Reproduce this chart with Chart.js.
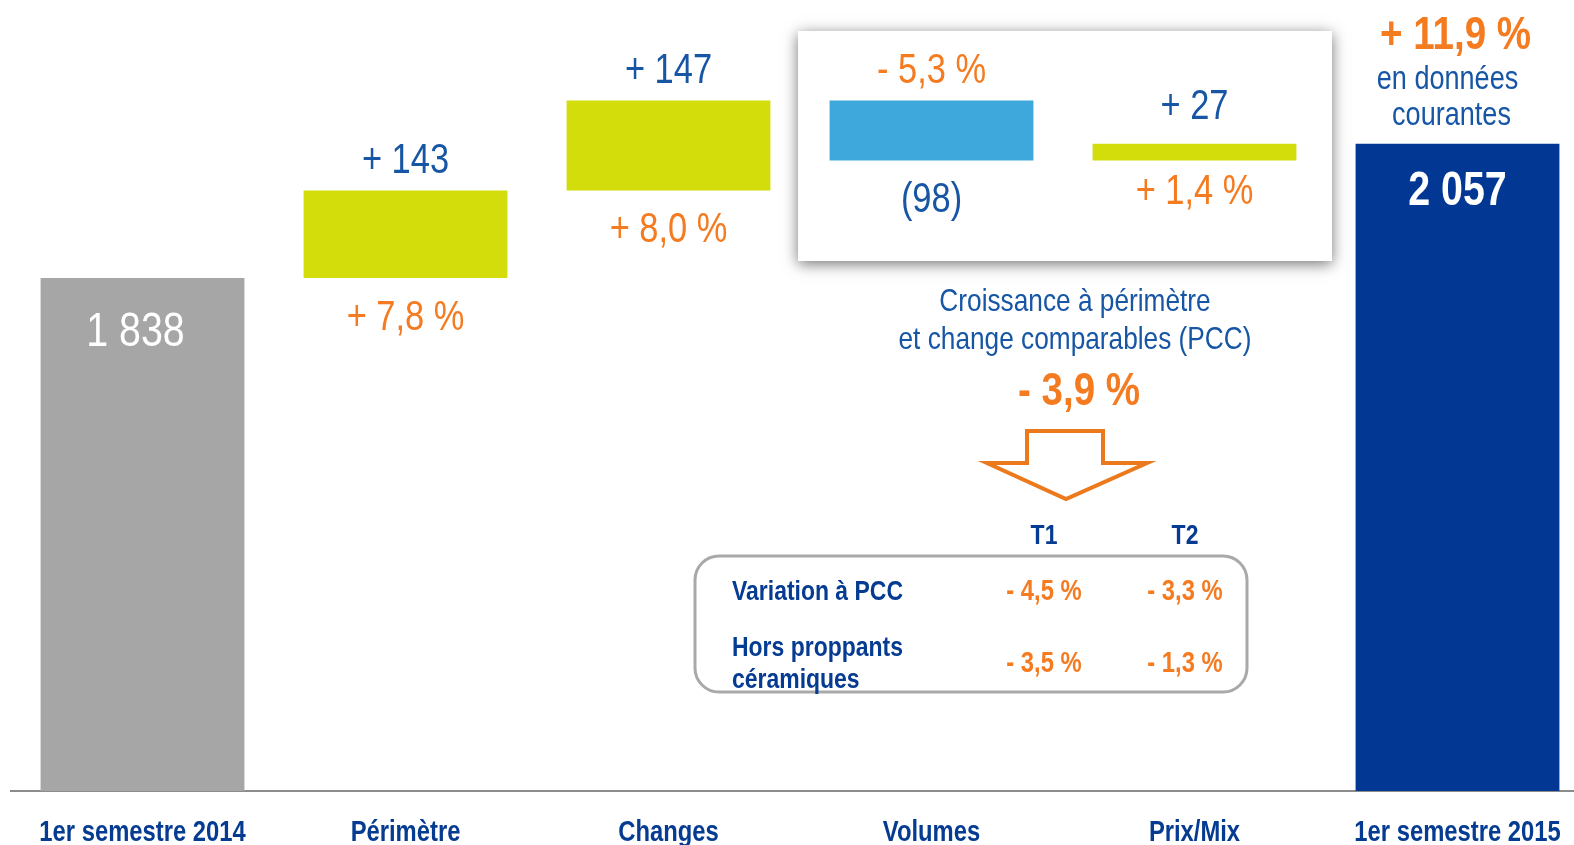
<!DOCTYPE html>
<html lang="fr">
<head>
<meta charset="utf-8">
<title>Chiffre d'affaires - 1er semestre 2015</title>
<script src="https://cdn.jsdelivr.net/npm/chart.js@4.4.1/dist/chart.umd.min.js"></script>
<style>
  html, body { margin: 0; padding: 0; background: #fff; overflow: hidden; }
  #wrap { position: relative; width: 1574px; height: 845px; overflow: hidden; }
</style>
</head>
<body>
<div id="wrap"><canvas id="bridge" width="1589" height="845"></canvas></div>
<script>
const categories = ['1er semestre 2014', 'Périmètre', 'Changes', 'Volumes', 'Prix/Mix', '1er semestre 2015'];
const amounts = [1838, 143, 147, -98, 27, 2057];
const isTotal = [true, false, false, false, false, true];
const amountLabels = ['1 838', '+ 143', '+ 147', '(98)', '+ 27', '2 057'];
const pctLabels = ['', '+ 7,8 %', '+ 8,0 %', '- 5,3 %', '+ 1,4 %', '+ 11,9 %'];
const barColors = ['#a6a6a6', '#d3dd0b', '#d3dd0b', '#3ea8dc', '#d3dd0b', '#023893'];

const totalNote = ['en données', 'courantes'];
const pccTitle = ['Croissance à périmètre', 'et change comparables (PCC)'];
const pccTotal = '- 3,9 %';
const quarters = ['T1', 'T2'];
const pccRows = [['Variation à PCC'], ['Hors proppants', 'céramiques']];
const pccValues = [['- 4,5 %', '- 3,3 %'], ['- 3,5 %', '- 1,3 %']];

// pas de police "narrow" installée : Liberation Sans compressée à 82 %
const FAMILY = '"Liberation Sans", Arial, sans-serif';
const SQUEEZE = 0.82;
const BLUE = '#1656a5';
const NAVY = '#053b91';
const ORANGE = '#f47b20';

// floating bars : totals start from the axis, steps from the running total
let running = 0;
const barData = amounts.map((v, i) => {
    if (isTotal[i]) { running = v; return v; }
    const start = running;
    running += v;
    return [start, running];
});

function text(ctx, str, x, y, size, bold, color, align) {
    ctx.save();
    ctx.translate(x, y);
    ctx.scale(SQUEEZE, 1);
    ctx.font = (bold ? 'bold ' : '') + size + 'px ' + FAMILY;
    ctx.fillStyle = color;
    ctx.textAlign = align || 'center';
    ctx.textBaseline = 'alphabetic';
    ctx.fillText(str, 0, 0);
    ctx.restore();
}

class NarrowCategoryScale extends Chart.CategoryScale {
    drawLabels(chartArea) {
        if (!this.options.ticks.display) return;
        const ctx = this.ctx;
        for (const item of this.getLabelItems(chartArea)) {
            const o = item.options;
            ctx.save();
            ctx.translate(o.translation[0], o.translation[1]);
            ctx.scale(SQUEEZE, 1);
            ctx.font = item.font.string;
            ctx.fillStyle = o.color;
            ctx.textAlign = o.textAlign;
            ctx.textBaseline = o.textBaseline;
            ctx.fillText(item.label, 0, item.textOffset);
            ctx.restore();
        }
    }
}
NarrowCategoryScale.id = 'narrowCategory';
Chart.register(NarrowCategoryScale);

const bridgePlugin = {
    id: 'bridgeLabels',
    beforeDatasetsDraw(chart) {
        const ctx = chart.ctx;
        const x = chart.scales.x;
        const half = (x.getPixelForValue(1) - x.getPixelForValue(0)) / 2;
        const left = x.getPixelForValue(3) - half - 2;
        const right = x.getPixelForValue(4) + half + 6;
        ctx.save();
        ctx.shadowColor = 'rgba(0,0,0,0.55)';
        ctx.shadowBlur = 14;
        ctx.shadowOffsetX = 0;
        ctx.shadowOffsetY = 3;
        ctx.fillStyle = '#fff';
        ctx.fillRect(left, 31, right - left, 230);
        ctx.restore();
    },
    afterDatasetsDraw(chart) {
        const ctx = chart.ctx;
        const meta = chart.getDatasetMeta(0);
        meta.data.forEach((bar, i) => {
            const top = Math.min(bar.y, bar.base);
            const bottom = Math.max(bar.y, bar.base);
            if (isTotal[i]) {
                text(ctx, amountLabels[i], bar.x - (i === 0 ? 7 : 0), top + (i === 0 ? 68 : 61), 48, i === 5, '#fff');
                return;
            }
            // thin bar : labels sit a little higher
            const lift = bottom - top < 30 ? 8 : 0;
            const up = amounts[i] >= 0 ? amountLabels[i] : pctLabels[i];
            const down = amounts[i] >= 0 ? pctLabels[i] : amountLabels[i];
            text(ctx, up, bar.x, top - 17 - lift, 42, false, amounts[i] >= 0 ? BLUE : ORANGE);
            text(ctx, down, bar.x, bottom + 52 - lift, 42, false, amounts[i] >= 0 ? ORANGE : BLUE);
        });

        // variation en données courantes
        const last = meta.data[5];
        text(ctx, pctLabels[5], last.x - 2, last.y - 95, 47, true, ORANGE);
        text(ctx, totalNote[0], last.x - 10, last.y - 55, 33, false, BLUE);
        text(ctx, totalNote[1], last.x - 6, last.y - 19, 33, false, BLUE);

        // bloc PCC
        const x = chart.scales.x;
        const mid = (x.getPixelForValue(3) + x.getPixelForValue(4)) / 2;
        text(ctx, pccTitle[0], mid + 12, 311, 32, false, BLUE);
        text(ctx, pccTitle[1], mid + 12, 349, 32, false, BLUE);
        text(ctx, pccTotal, mid + 16, 405, 47, true, ORANGE);

        ctx.save();
        ctx.beginPath();
        ctx.moveTo(mid - 36, 431);
        ctx.lineTo(mid + 40, 431);
        ctx.lineTo(mid + 40, 463);
        ctx.lineTo(mid + 84, 463);
        ctx.lineTo(mid + 3, 499);
        ctx.lineTo(mid - 76, 463);
        ctx.lineTo(mid - 36, 463);
        ctx.closePath();
        ctx.lineWidth = 4;
        ctx.lineJoin = 'miter';
        ctx.strokeStyle = '#ec7a1c';
        ctx.stroke();

        ctx.beginPath();
        ctx.roundRect(695, 556, 552, 136, 24);
        ctx.lineWidth = 3;
        ctx.strokeStyle = '#a9a9a9';
        ctx.stroke();
        ctx.restore();

        const colX = [mid - 19, mid + 122];
        quarters.forEach((q, j) => text(ctx, q, colX[j], 544, 28, true, NAVY));
        text(ctx, pccRows[0][0], 732, 600, 28, true, NAVY, 'left');
        text(ctx, pccRows[1][0], 732, 656, 28, true, NAVY, 'left');
        text(ctx, pccRows[1][1], 732, 688, 28, true, NAVY, 'left');
        const rowY = [600, 672];
        pccValues.forEach((row, r) => row.forEach((v, j) =>
            text(ctx, v, colX[j], rowY[r], 29, true, ORANGE)));
    }
};

new Chart(document.getElementById('bridge'), {
    type: 'bar',
    data: {
        labels: categories,
        datasets: [{
            data: barData,
            backgroundColor: barColors,
            borderWidth: 0,
            categoryPercentage: 1,
            barPercentage: 0.775
        }]
    },
    options: {
        responsive: false,
        animation: false,
        layout: { padding: { left: 11, right: 0, top: 0, bottom: 0 } },
        plugins: {
            legend: { display: false },
            tooltip: { enabled: false }
        },
        scales: {
            x: {
                type: 'narrowCategory',
                grid: { display: false, drawTicks: false },
                border: { display: true, color: '#8c8c8c', width: 2 },
                ticks: {
                    color: NAVY,
                    padding: 25,
                    maxRotation: 0,
                    autoSkip: false,
                    callback: (v, i) => categories[i],
                    font: { family: FAMILY, size: 29, weight: 'bold' }
                },
                afterFit: s => {
                    s.height = 54;
                    s.paddingLeft = 0;
                    s.paddingRight = 0;
                }
            },
            y: { display: false, min: 1000, max: 2292 }
        }
    },
    plugins: [bridgePlugin]
});
</script>
</body>
</html>
